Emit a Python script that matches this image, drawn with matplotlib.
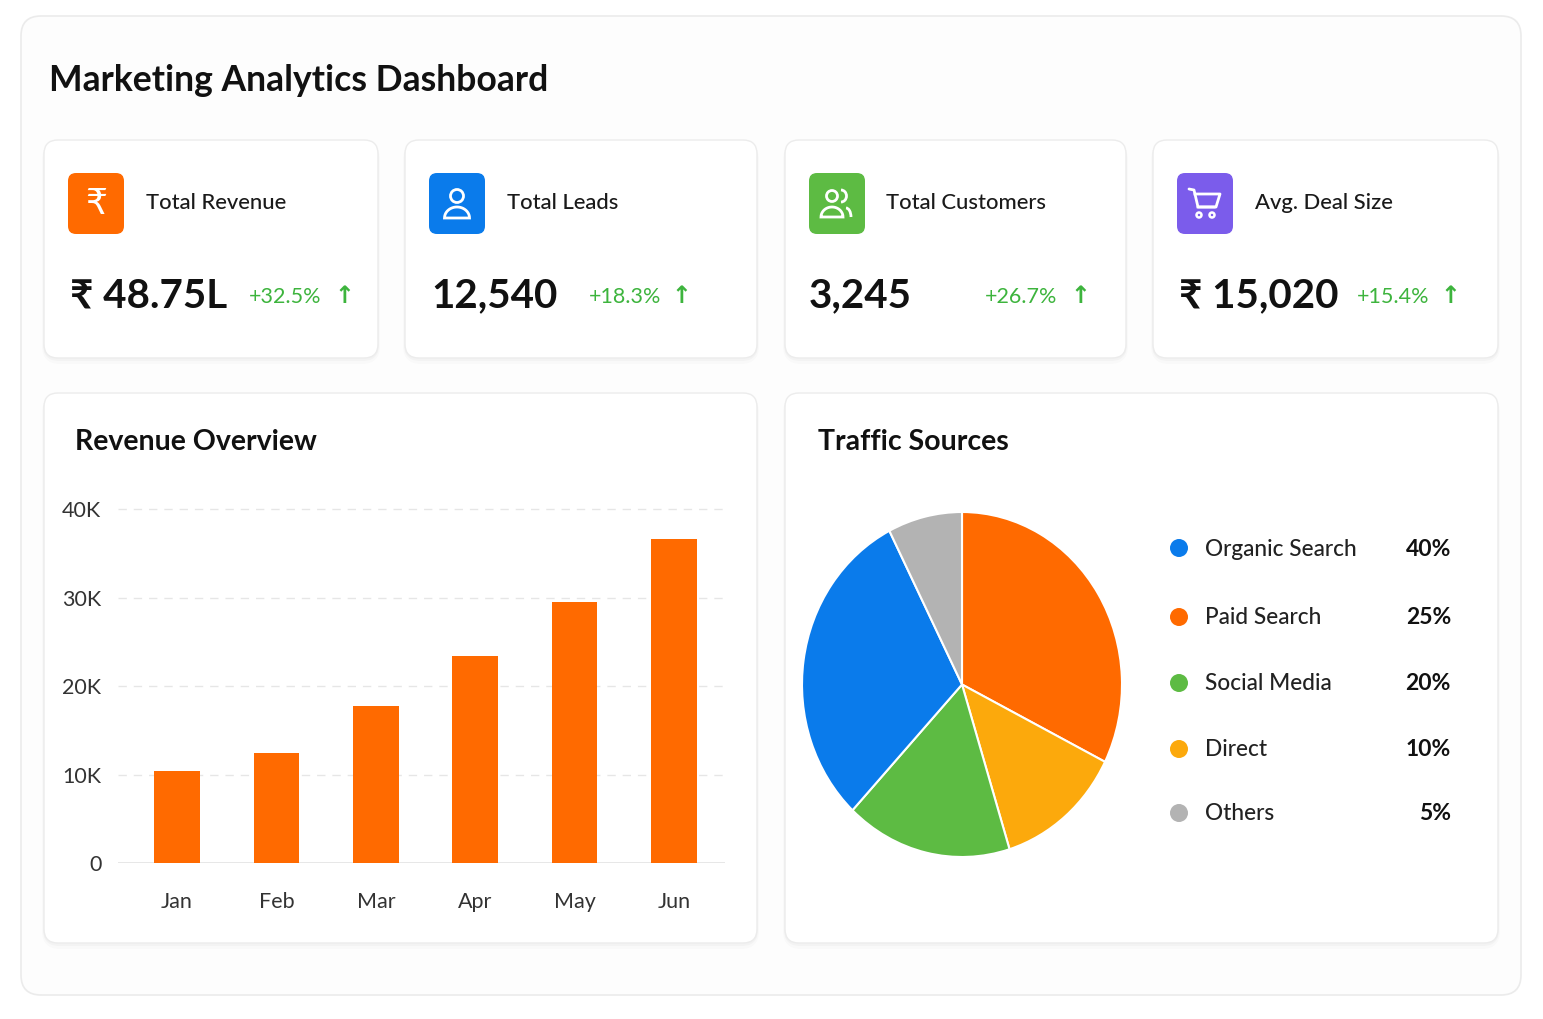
import matplotlib
matplotlib.use('Agg')
import matplotlib.pyplot as plt
from matplotlib.patches import FancyBboxPatch, Circle, Polygon, Arc
import numpy as np

plt.rcParams['font.family'] = ['Lato', 'DejaVu Sans']

# ---- data ----
months = ['Jan', 'Feb', 'Mar', 'Apr', 'May', 'Jun']
revenue = [10400, 12400, 17700, 23400, 29500, 36600]
y_ticks = [0, 10000, 20000, 30000, 40000]
y_tick_labels = ['0', '10K', '20K', '30K', '40K']

# pie wedges, clockwise from 12 o'clock (as drawn)
pie_sources = ['Paid Search', 'Direct', 'Social Media', 'Organic Search', 'Others']
pie_sizes = [32.4, 12.8, 16.8, 30.5, 7.5]
# legend block
legend_names = ['Organic Search', 'Paid Search', 'Social Media', 'Direct', 'Others']
legend_pcts = ['40%', '25%', '20%', '10%', '5%']

kpi_titles = ['Total Revenue', 'Total Leads', 'Total Customers', 'Avg. Deal Size']
kpi_values = ['₹ 48.75L', '12,540', '3,245', '₹ 15,020']
kpi_changes = ['+32.5%', '+18.3%', '+26.7%', '+15.4%']

colors = {'Organic Search': '#0A7BEB', 'Paid Search': '#FF6A00',
          'Social Media': '#5DBB43', 'Direct': '#FCA90C', 'Others': '#B3B3B3'}
ORANGE = '#FF6A00'
GREEN_TXT = '#3DB43D'

W, H = 1543, 1019
fig = plt.figure(figsize=(W / 100, H / 100), dpi=100, facecolor='white')

bg = fig.add_axes([0, 0, 1, 1], zorder=0)
bg.set_xlim(0, W)
bg.set_ylim(H, 0)
bg.axis('off')


def card(x0, y0, x1, y1, r=14, ec='#ececec'):
    for k, a in [(4, 0.015), (2, 0.025)]:
        bg.add_patch(FancyBboxPatch((x0 - k / 2, y0 + k / 2), x1 - x0 + k, y1 - y0 + k,
                                    boxstyle='round,pad=0,rounding_size=%d' % (r + k),
                                    fc='black', ec='none', alpha=a))
    bg.add_patch(FancyBboxPatch((x0, y0), x1 - x0, y1 - y0,
                                boxstyle='round,pad=0,rounding_size=%d' % r,
                                fc='white', ec=ec, lw=1))


def px(x0, y0, x1, y1):
    return [x0 / W, 1 - y1 / H, (x1 - x0) / W, (y1 - y0) / H]


# outer card
bg.add_patch(FancyBboxPatch((21, 16), 1500, 979, boxstyle='round,pad=0,rounding_size=20',
                            fc='#fdfdfd', ec='#ebebeb', lw=1.2))
bg.text(49, 80, 'Marketing Analytics Dashboard', fontsize=25.6, fontweight='bold',
        color='#111111', va='center', ha='left')

# KPI cards
card_x = [(44, 378), (405, 757), (785, 1126), (1153, 1498)]
icon_x = [68, 429, 809, 1177]
label_x = [146, 507, 886, 1255]
value_x = [70, 431, 809, 1179]
change_x = [249, 589, 985, 1357]
arrow_x = [344, 681, 1080, 1450]
icon_cols = ['#FF6A00', '#0A7BEB', '#5DBB43', '#7B5CEB']

for i in range(4):
    card(card_x[i][0], 140, card_x[i][1], 358)
    ix = icon_x[i]
    bg.add_patch(FancyBboxPatch((ix, 173), 56, 61, boxstyle='round,pad=0,rounding_size=8',
                                fc=icon_cols[i], ec='none'))
    bg.text(label_x[i], 203, kpi_titles[i], fontsize=15.8, fontweight='medium',
            color='#1a1a1a', va='center')
    bg.text(value_x[i], 296, kpi_values[i], fontsize=29, fontweight='bold',
            color='#111111', va='center')
    bg.text(change_x[i], 297, kpi_changes[i], fontsize=15.5, color=GREEN_TXT, va='center')
    bg.text(arrow_x[i], 296, '↑', fontsize=17, fontweight='bold', color=GREEN_TXT,
            va='center', ha='center', family=['DejaVu Sans'])

bg.text(96, 204, '₹', fontsize=25, color='white', ha='center', va='center',
        family=['DejaVu Sans'])

# person icon
t = np.linspace(np.pi, 2 * np.pi, 30)
cx = 457
bg.add_patch(Circle((cx, 196), 6.5, fc='none', ec='white', lw=2))
bx = cx + 12.5 * np.cos(t)
by = 218 + 11 * np.sin(t)
bg.add_patch(Polygon(np.column_stack([bx, by]), closed=True, fc='none', ec='white', lw=2))

# customers icon
cx = 832
bg.add_patch(Circle((cx, 196), 5.5, fc='none', ec='white', lw=2))
bx = cx + 11 * np.cos(t)
by = 217 + 10 * np.sin(t)
bg.add_patch(Polygon(np.column_stack([bx, by]), closed=True, fc='none', ec='white', lw=2))
bg.add_patch(Arc((841, 196), 11, 12, theta1=270, theta2=90, ec='white', lw=2))
bg.add_patch(Arc((846, 217), 10, 18, theta1=270, theta2=0, ec='white', lw=2))

# cart icon
bg.plot([1189, 1194, 1198, 1215], [189, 190, 207, 207], color='white', lw=2,
        solid_capstyle='round', solid_joinstyle='round')
bg.plot([1195, 1220, 1216, 1198], [194, 194, 207, 207], color='white', lw=2,
        solid_joinstyle='round')
bg.add_patch(Circle((1199, 215), 2.5, fc='none', ec='white', lw=1.8))
bg.add_patch(Circle((1212, 215), 2.5, fc='none', ec='white', lw=1.8))

# lower cards
card(44, 393, 757, 943)
card(785, 393, 1498, 943)
bg.text(75, 442, 'Revenue Overview', fontsize=20.5, fontweight='bold', color='#111111', va='center')
bg.text(818, 442, 'Traffic Sources', fontsize=20.5, fontweight='bold', color='#111111', va='center')

# ---- bar chart ----
ax = fig.add_axes(px(118, 504.6, 725, 863), zorder=2)
ax.set_facecolor('none')
x = np.arange(len(months))
ax.bar(x, revenue, width=0.46, color=ORANGE, zorder=3)
ax.set_xlim(-0.594, 5.513)
ax.set_ylim(0, 40500)
ax.set_yticks(y_ticks)
ax.set_yticklabels(y_tick_labels)
ax.set_xticks(x)
ax.set_xticklabels(months)
for s in ax.spines.values():
    s.set_visible(False)
ax.axhline(0, color='#e3e3e3', lw=1.2, zorder=2)
for v in y_ticks[1:]:
    ax.axhline(v, color='#e6e6e6', lw=1, ls=(0, (6, 5)), zorder=1, clip_on=False)
ax.tick_params(axis='both', length=0, labelsize=15.5, colors='#333333')
ax.tick_params(axis='y', pad=12)
ax.tick_params(axis='x', pad=21)

# ---- pie chart ----
pax = fig.add_axes(px(802, 512, 1122, 857), zorder=2)
pax.pie(pie_sizes, colors=[colors[s] for s in pie_sources], startangle=90,
        counterclock=False, wedgeprops=dict(edgecolor='white', linewidth=1.5))
pax.set_aspect('auto')
pax.set_xlim(-1.0, 1.0)
pax.set_ylim(-1.0, 1.0)

# legend
rows = [548, 617, 683, 749, 813]
for name, pct, yy in zip(legend_names, legend_pcts, rows):
    bg.add_patch(Circle((1179, yy), 9, fc=colors[name], ec='none', zorder=3))
    bg.text(1205, yy + 1, name, fontsize=16.3, fontweight='medium', color='#222222', va='center')
    bg.text(1451, yy + 1, pct, fontsize=16.5, color='#111111', va='center', ha='right',
            fontweight='bold')

fig.savefig('out.png', dpi=100, facecolor='white')
